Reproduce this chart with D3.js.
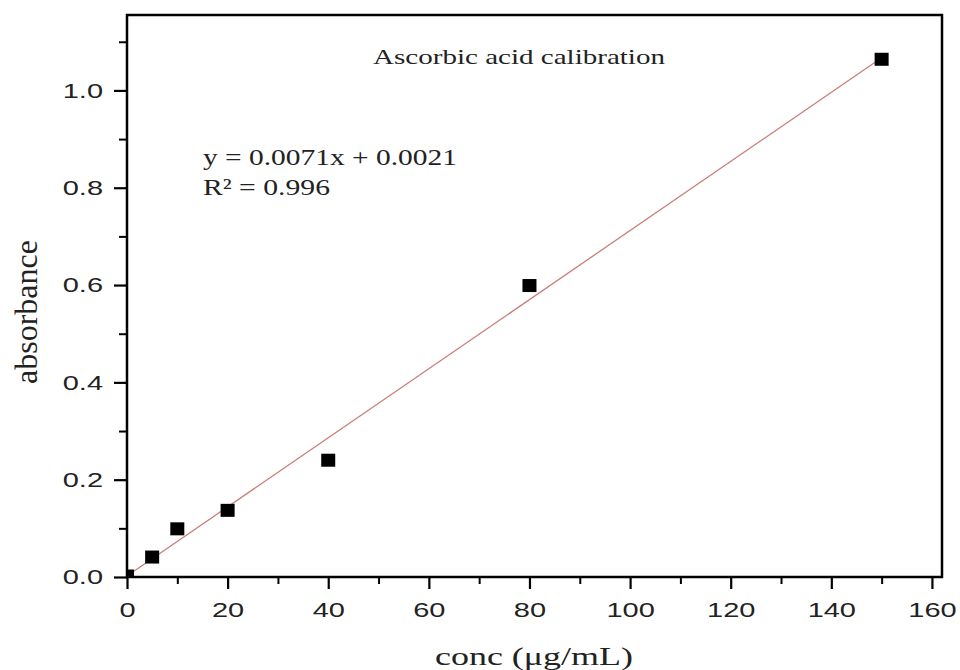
<!DOCTYPE html>
<html>
<head>
<meta charset="utf-8">
<script src="https://cdn.jsdelivr.net/npm/d3@7"></script>
<style>
  html, body { margin: 0; padding: 0; background: #fff; }
  svg { display: block; }
</style>
</head>
<body>
<svg id="chart" width="960" height="670"></svg>
<script>
// data
const conc = [0, 5, 10, 20, 40, 80, 150];
const absorbance = [0.002, 0.041, 0.099, 0.137, 0.240, 0.599, 1.064];
const xMajorTicks = [0, 20, 40, 60, 80, 100, 120, 140, 160];
const xMinorTicks = [10, 30, 50, 70, 90, 110, 130, 150];
const yMajorTicks = [0.0, 0.2, 0.4, 0.6, 0.8, 1.0];
const yMinorTicks = [0.1, 0.3, 0.5, 0.7, 0.9, 1.1];
const fitSlope = 0.0071;
const fitIntercept = 0.0021;
const fitRange = [0, 150];
const title = "Ascorbic acid calibration";
const eqLines = ["y = 0.0071x + 0.0021", "R\u00b2 = 0.996"];

const svg = d3.select("#chart");
const mLeft = 127, mRight = 942, mTop = 15, mBottom = 577;

const x = d3.scaleLinear().domain([0, 162]).range([mLeft, mRight]);
const y = d3.scaleLinear().domain([0, 1.155]).range([mBottom, mTop]);

const serif = "'Liberation Serif', 'Times New Roman', serif";
const sans = "'Liberation Sans', Arial, sans-serif";

svg.append("defs").append("clipPath").attr("id", "plot")
  .append("rect").attr("x", mLeft).attr("y", mTop)
  .attr("width", mRight - mLeft).attr("height", mBottom - mTop);

// regression line
const fit = d3.line().x(d => x(d)).y(d => y(fitSlope * d + fitIntercept));
svg.append("path").datum(fitRange).attr("d", fit)
  .attr("fill", "none").attr("stroke", "#c97f78").attr("stroke-width", 1.3);

// points
const pts = conc.map((c, i) => ({ c, a: absorbance[i] }));
svg.append("g").attr("clip-path", "url(#plot)")
  .selectAll("rect").data(pts).enter().append("rect")
  .attr("x", d => x(d.c) - 7).attr("y", d => y(d.a) - 6.5)
  .attr("width", 14).attr("height", 13).attr("fill", "#000");

// axes
function styleAxis(g, w) {
  g.select(".domain").remove();
  g.selectAll(".tick line").attr("stroke", "#000").attr("stroke-width", w);
}

svg.append("g").attr("transform", `translate(0,${mBottom})`)
  .call(d3.axisBottom(x).tickValues(xMinorTicks).tickSizeInner(7).tickSizeOuter(0).tickFormat(""))
  .call(g => styleAxis(g, 2));
svg.append("g").attr("transform", `translate(0,${mBottom})`)
  .call(d3.axisBottom(x).tickValues(xMajorTicks).tickSizeInner(12).tickSizeOuter(0).tickPadding(13).tickFormat(d3.format("d")))
  .call(g => styleAxis(g, 2.2))
  .call(g => g.selectAll("text").attr("font-family", sans).attr("font-size", 21)
    .attr("fill", "#222").attr("transform", "scale(1.38,1)"));

svg.append("g").attr("transform", `translate(${mLeft},0)`)
  .call(d3.axisLeft(y).tickValues(yMinorTicks).tickSizeInner(8).tickSizeOuter(0).tickFormat(""))
  .call(g => styleAxis(g, 2));
svg.append("g").attr("transform", `translate(${mLeft},0)`)
  .call(d3.axisLeft(y).tickValues(yMajorTicks).tickSizeInner(13).tickSizeOuter(0).tickPadding(4.4).tickFormat(d3.format(".1f")))
  .call(g => styleAxis(g, 2.2))
  .call(g => g.selectAll("text").attr("font-family", sans).attr("font-size", 21)
    .attr("fill", "#222").attr("transform", "scale(1.38,1)"));

// frame
svg.append("rect").attr("x", mLeft).attr("y", mTop)
  .attr("width", mRight - mLeft).attr("height", mBottom - mTop)
  .attr("fill", "none").attr("stroke", "#000").attr("stroke-width", 2.5);

// texts
svg.append("text").attr("x", 373).attr("y", 64)
  .attr("font-family", serif).attr("font-size", 22).attr("fill", "#222")
  .attr("textLength", 292).attr("lengthAdjust", "spacingAndGlyphs")
  .text(title);

svg.selectAll(".eq").data(eqLines).enter().append("text")
  .attr("class", "eq")
  .attr("x", 203).attr("y", (d, i) => 165 + i * 30)
  .attr("font-family", serif).attr("font-size", 23).attr("fill", "#222")
  .attr("textLength", (d, i) => i === 0 ? 254 : 127).attr("lengthAdjust", "spacingAndGlyphs")
  .text(d => d);

svg.append("text").attr("x", 435).attr("y", 665)
  .attr("font-family", serif).attr("font-size", 26).attr("fill", "#222")
  .attr("textLength", 198).attr("lengthAdjust", "spacingAndGlyphs")
  .text("conc (\u03bcg/mL)");

svg.append("text").attr("transform", "translate(37,312) rotate(-90)")
  .attr("text-anchor", "middle")
  .attr("font-family", serif).attr("font-size", 32).attr("fill", "#222")
  .text("absorbance");
</script>
</body>
</html>
